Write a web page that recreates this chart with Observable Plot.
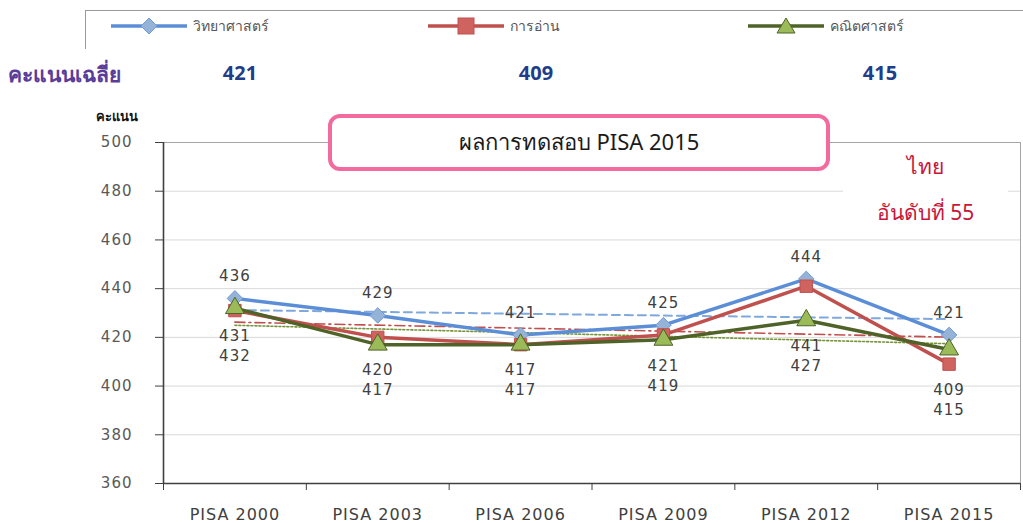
<!DOCTYPE html>
<html><head><meta charset="utf-8">
<script src="https://cdn.jsdelivr.net/npm/d3@7"></script>
<script src="https://cdn.jsdelivr.net/npm/@observablehq/plot@0.6"></script>
<style>
body{margin:0;background:#fff;}
#wrap{position:relative;width:1023px;height:523px;overflow:hidden;font-family:"Noto Sans","DejaVu Sans",sans-serif;}
#wrap svg text{letter-spacing:1px;}
.abs{position:absolute;}
#legend{left:85px;top:10px;right:-5px;height:38px;border-top:1.5px solid #9a9a9a;border-left:1.5px solid #9a9a9a;}
.leg{position:absolute;top:4px;display:flex;align-items:center;font-size:14px;color:#555;}
.leg svg{margin-right:4px;}
#avgLabel{left:8px;top:58px;font-size:21px;font-weight:bold;color:#5a3d98;}
.avg{top:59px;width:80px;text-align:center;font-size:20px;font-weight:bold;color:#1f3d8a;}
#yLabel{left:96px;top:106px;font-size:13px;font-weight:bold;color:#111;}
#titleBox{left:328px;top:114px;width:494px;height:49px;border:4px solid #f26a9e;border-radius:12px;background:#fff;display:flex;align-items:center;justify-content:center;font-size:22px;color:#1a1a1a;}
#note{left:843px;top:143px;width:165px;height:88px;background:#fff;text-align:center;font-size:21px;color:#c8163a;line-height:46px;}
</style></head><body><div id="wrap"></div>
<script>
// ---- data ----
const rounds = ["PISA 2000","PISA 2003","PISA 2006","PISA 2009","PISA 2012","PISA 2015"];
const subjects = ["วิทยาศาสตร์","การอ่าน","คณิตศาสตร์"];
const science = [436,429,421,425,444,421];
const reading = [431,420,417,421,441,409];
const math    = [432,417,417,419,427,415];
const averages = [421,409,415];
const averageLabel = "คะแนนเฉลี่ย";
const yTicks = [360,380,400,420,440,460,480,500];
const yLabel = "คะแนน";
const chartTitle = "ผลการทดสอบ PISA 2015";
const noteLines = ["ไทย","อันดับที่ 55"];

// ---- styles ----
const lineColors = ["#5b8ed6","#c0504d","#4f6228"];
const markFill = ["#95b3d7","#cf6360","#9bbb59"];
const markStroke = ["#6f9bd9","#c0504d","#4f6228"];
const symbols = ["diamond2","square","triangle"];
const trendStyle = [
  {stroke:"#7fa8dc", strokeDasharray:"8,5", strokeWidth:2},
  {stroke:"#c0504d", strokeDasharray:"10,4,2,4", strokeWidth:1.6},
  {stroke:"#77933c", strokeDasharray:"2,2", strokeWidth:1.6}
];

const seriesValues = [science, reading, math];
const series = subjects.map((s, k) => seriesValues[k].map((v, i) => ({i, round: rounds[i], subject: s, value: v})));
const lowerLabels = rounds.map((r, i) => ({i, base: Math.min(reading[i], math[i]), reading: reading[i], math: math[i]}));
const xDomain = [-0.5, rounds.length - 0.5];
const boundaries = d3.range(rounds.length + 1).map(k => k - 0.5);

const marks = [
  Plot.gridY(yTicks, {stroke:"#d9d9d9", strokeOpacity:1}),
  Plot.frame({stroke:"#a6a6a6"}),
  Plot.axisY({ticks: yTicks, tickSize: 8, tickPadding: 23, fontSize: 15, fill:"#595959", stroke:"#404040", label: null}),
  Plot.axisX({ticks: d3.range(rounds.length), tickFormat: i => rounds[i], tickSize: 0, tickPadding: 25, fontSize: 16, fill:"#404040", label: null}),
  Plot.axisX({ticks: boundaries, tickFormat: () => "", tickSize: 7, stroke:"#404040", label: null}),
  Plot.ruleX([xDomain[0]], {stroke:"#404040", strokeWidth:1.6}),
  Plot.ruleY([yTicks[0]], {stroke:"#404040", strokeWidth:1.6})
];
series.forEach((d, k) => {
  marks.push(Plot.linearRegressionY(d, {x:"i", y:"value", ci:0, ...trendStyle[k]}));
});
series.forEach((d, k) => {
  marks.push(Plot.line(d, {x:"i", y:"value", stroke: lineColors[k], strokeWidth: 3.5}));
  marks.push(Plot.dot(d, {x:"i", y:"value", symbol: symbols[k], r: 7, fill: markFill[k], stroke: markStroke[k], strokeWidth: 1}));
});
marks.push(Plot.text(series[0], {x:"i", y:"value", text: d => String(d.value), dy:-22, fontSize:15, fill:"#404040"}));
marks.push(Plot.text(lowerLabels, {x:"i", y:"base", text: d => String(d.reading), dy:26, fontSize:15, fill:"#404040"}));
marks.push(Plot.text(lowerLabels, {x:"i", y:"base", text: d => String(d.math), dy:46, fontSize:15, fill:"#404040"}));

const chart = Plot.plot({
  width: 1023, height: 523,
  marginTop: 142, marginBottom: 40, marginLeft: 163, marginRight: 3,
  x: {type:"linear", domain: xDomain, axis: null},
  y: {domain: [yTicks[0], yTicks[yTicks.length-1]], axis: null},
  style: {fontFamily: "'DejaVu Sans', sans-serif", background: "#fff", overflow: "visible"},
  marks
});

const wrap = document.getElementById("wrap");
wrap.appendChild(chart);

// ---- overlays: legend, averages, labels ----
function el(cls, id, html, style) {
  const d = document.createElement("div");
  d.className = cls; if (id) d.id = id; d.innerHTML = html;
  if (style) Object.assign(d.style, style);
  wrap.appendChild(d); return d;
}
const legend = el("abs", "legend", "");
const legPos = [25, 342, 662];
const symPath = [
  '<path d="M38,3 L46,11 L38,19 L30,11 Z"',
  '<rect x="30" y="3" width="16" height="16"',
  '<path d="M38,3 L47,18 L29,18 Z"'
];
subjects.forEach((s, k) => {
  const it = document.createElement("div");
  it.className = "leg"; it.style.left = legPos[k] + "px";
  it.innerHTML = `<svg width="78" height="22"><line x1="0" y1="11" x2="76" y2="11" stroke="${lineColors[k]}" stroke-width="3.5"/>${symPath[k]} fill="${markFill[k]}" stroke="${markStroke[k]}"/></svg><span>${s}</span>`;
  legend.appendChild(it);
});
el("abs", "avgLabel", averageLabel);
const avgCenters = [240, 536, 880];
averages.forEach((a, k) => el("abs avg", null, String(a), {left: (avgCenters[k] - 40) + "px"}));
el("abs", "yLabel", yLabel);
el("abs", "titleBox", chartTitle);
el("abs", "note", noteLines.join("<br>"));
</script>
</body></html>
